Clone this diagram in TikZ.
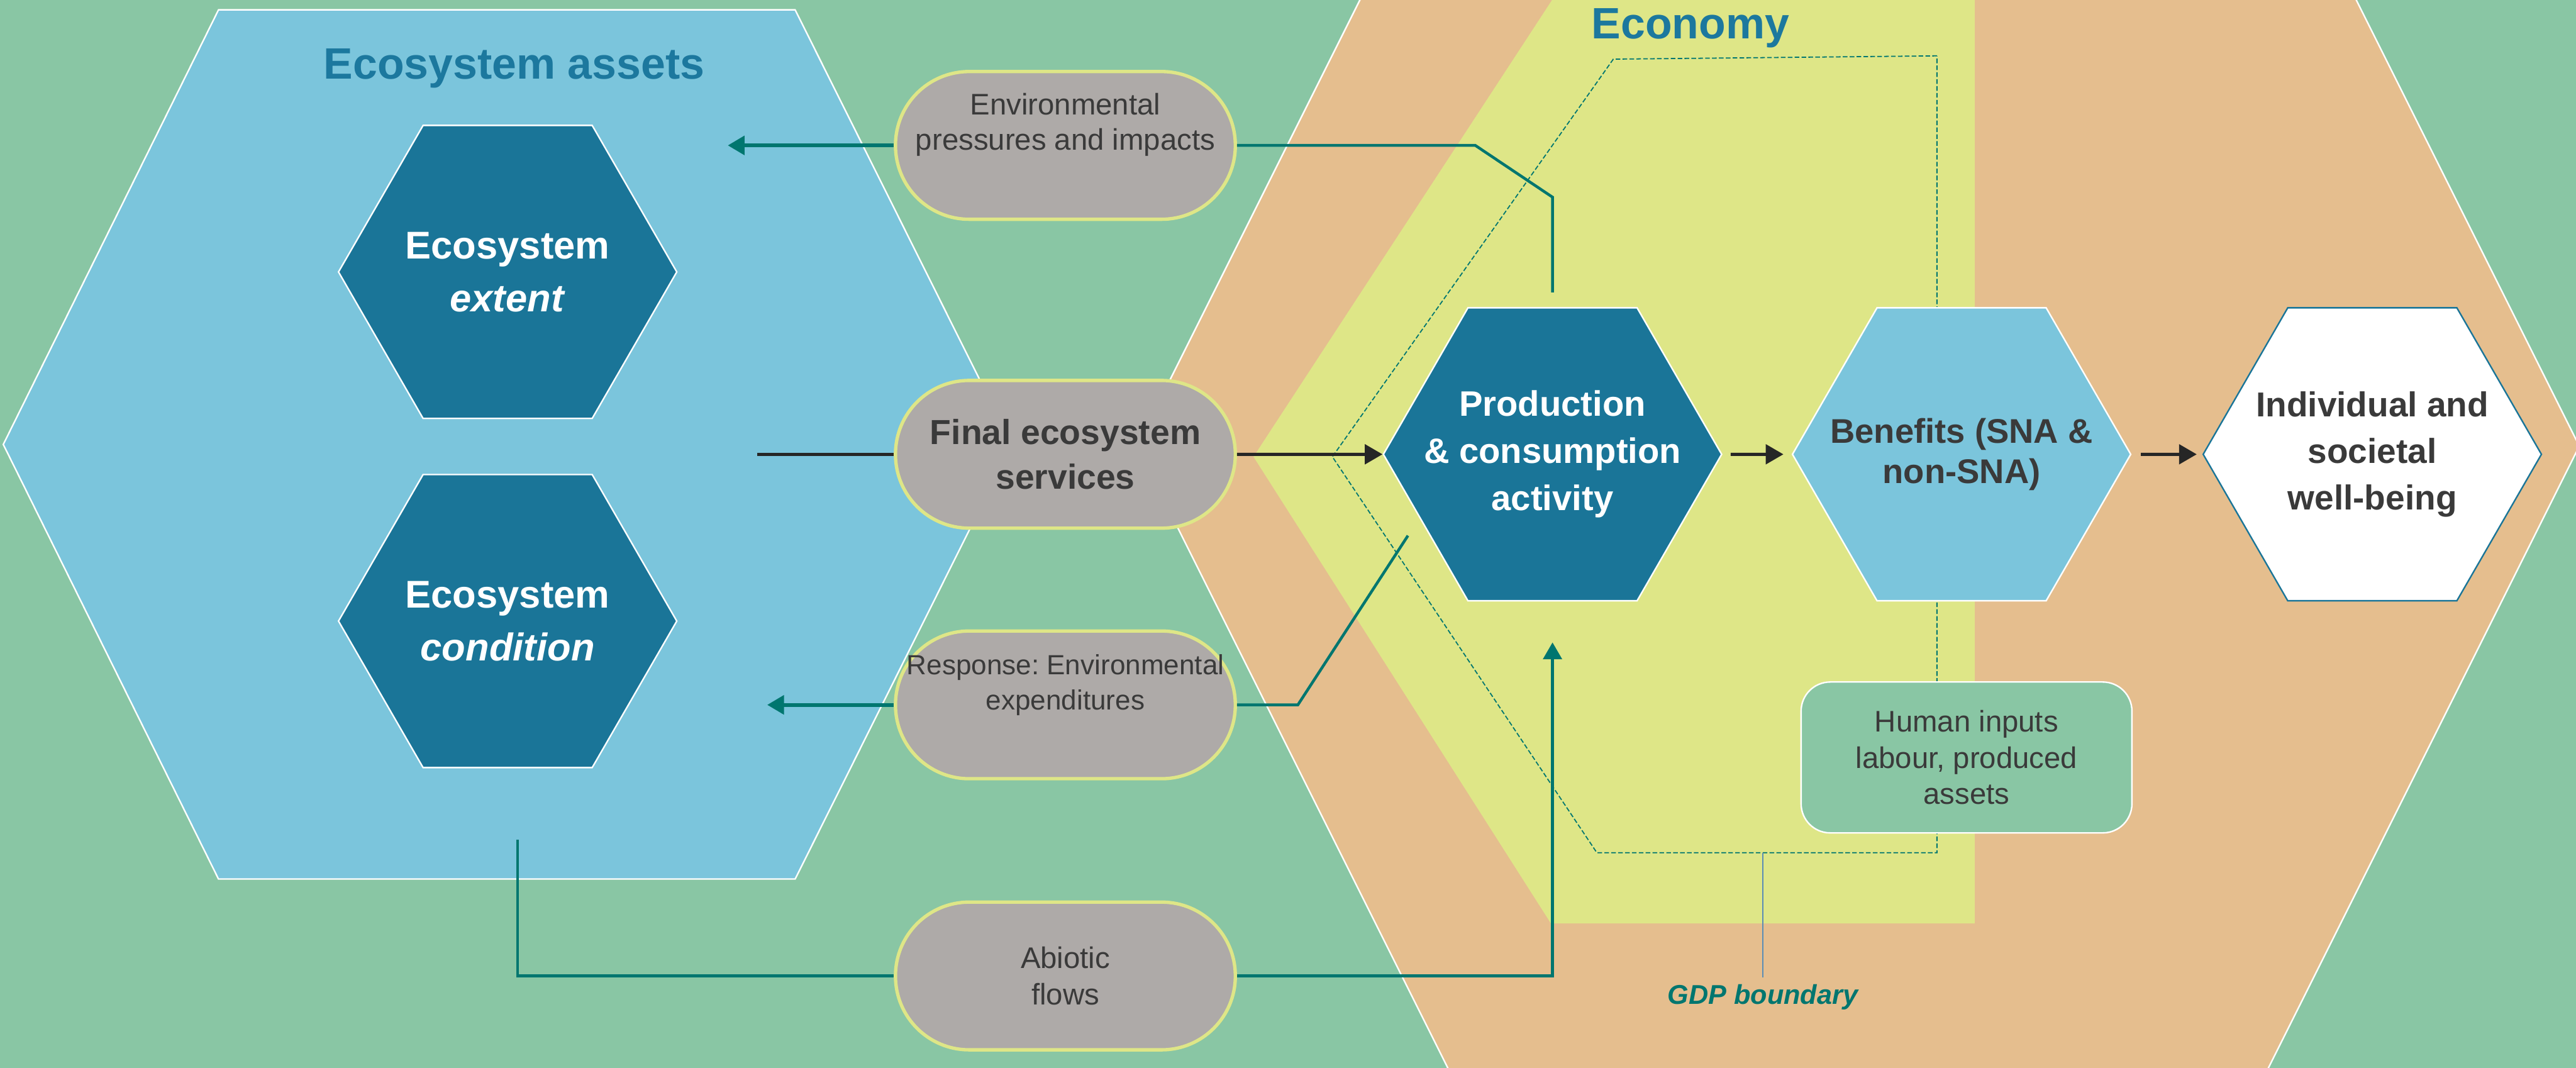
\documentclass[tikz,border=0pt]{standalone}
\usepackage{fontspec}
\setmainfont{Liberation Sans}
\usetikzlibrary{positioning, shapes.geometric, arrows.meta}

\definecolor{meadow}{HTML}{89C6A4}
\definecolor{assetblue}{HTML}{7BC5DC}
\definecolor{deepteal}{HTML}{1A7598}
\definecolor{sand}{HTML}{E5BE8E}
\definecolor{lime}{HTML}{DEE687}
\definecolor{pebble}{HTML}{AEAAA8}
\definecolor{flowteal}{HTML}{00766F}
\definecolor{inkgrey}{HTML}{3A3A3A}
\definecolor{headblue}{HTML}{1C789E}
\definecolor{arrowblack}{HTML}{262626}
\definecolor{gdpline}{HTML}{5A8DB5}

\tikzstyle{Arrow} = [
%black flow arrow between the activity hexagons
line width=1.7pt, draw=arrowblack,
-{Triangle[length=9.5pt, width=10.5pt]}
]

\begin{document}
\begin{tikzpicture}[x=0.031034cm, y=-0.031034cm,
    hexa/.style = {regular polygon, regular polygon sides=6, minimum size=6.39cm, inner sep=-0.8cm, draw=white, line width=0.8pt, align=center},
    pill/.style = {rectangle, rounded corners=1.39cm, fill=pebble, draw=lime, line width=1.8pt, minimum width=6.42cm, minimum height=2.79cm, inner sep=0pt, align=center, text=inkgrey},
    pilltext/.style = {align=center, text=inkgrey, font=\fontsize{16}{18.8}\selectfont},
    heading/.style = {anchor=base, text=headblue, font=\fontsize{23.6}{28}\selectfont\bfseries},
    flow/.style = {draw=flowteal, line width=1.5pt},
    flowtip/.style = {draw=flowteal, line width=2pt, -{Triangle[length=9pt, width=10pt]}},
  ]
  \useasboundingbox (0,0) rectangle (1568,650);
  \clip (0,0) rectangle (1568,650);

  % backdrop, economy and ecosystem regions
  \fill[meadow] (0,0) rectangle (1568,650);
  \filldraw[fill=sand, draw=white, line width=0.8pt] (842.75,-30) -- (1419.25,-30) -- (1570,271.5) -- (1365.75,680) -- (896.25,680) -- (692,271.5) -- cycle;
  \fill[lime] (948,-5) -- (1202,-5) -- (1202,562) -- (944,562) -- (763,278) -- cycle;
  \filldraw[fill=assetblue, draw=white, line width=0.8pt] (133,6) -- (484,6) -- (616,270.5) -- (484,535) -- (133,535) -- (2,270.5) -- cycle;

  \node[heading] (assets) at (313,48) {Ecosystem assets};
  \node[heading] (economy) at (1029,23.6) {Economy};

  % GDP boundary
  \draw[flowteal, line width=0.6pt, dash pattern=on 2.5pt off 1.2pt] (1179,34) -- (982,36) -- (811,278) -- (972,519) -- (1179,519) -- cycle;

  % hexagons
  \node[hexa, fill=deepteal, text=white, font=\fontsize{20.8}{28.5}\selectfont\bfseries] (extent) at (309,165.5) {Ecosystem\\\textit{extent}};
  \node[hexa, fill=deepteal, text=white, font=\fontsize{20.8}{28.5}\selectfont\bfseries] (condition) at (309,378) {Ecosystem\\\textit{condition}};
  \node[hexa, fill=deepteal, text=white, font=\fontsize{19}{25.3}\selectfont\bfseries] (prod) at (945,276.5) {Production\\\& consumption\\activity};
  \node[hexa, fill=assetblue, text=inkgrey, font=\fontsize{18.4}{21.5}\selectfont\bfseries] (benefit) at (1194,276.5) {Benefits (SNA \&\\non-SNA)};
  \node[hexa, fill=white, draw=deepteal, text=inkgrey, font=\fontsize{18.6}{25}\selectfont\bfseries] (wellbeing) at (1444,276.5) {Individual and\\societal\\well-being};

  \node[rectangle, rounded corners=0.55cm, fill=meadow, draw=white, line width=0.8pt, minimum width=6.25cm, minimum height=2.85cm, align=center, text=inkgrey, font=\fontsize{16}{19.4}\selectfont] (human) at (1197,461) {Human inputs\\labour, produced\\assets};

  % teal flows
  \coordinate (pressFoot) at (945,178);
  \coordinate (pressKnee) at (945,120);
  \coordinate (pressElbow) at (898,88.5);
  \coordinate (pressTip) at (443,88.5);
  \coordinate (respFoot) at (857,326);
  \coordinate (respElbow) at (790,429);
  \coordinate (respTip) at (467,429);
  \coordinate (abioFoot) at (315,511);
  \coordinate (abioTip) at (945,391);
  \coordinate (svcStart) at (461,276.5);

  % pills
  \node[pill] (env) at (648.5,88.5) {};
  \node[pilltext] (envtext) at (648.5,76) {Environmental\\pressures and impacts};
  \node[pill, font=\fontsize{18.7}{23.9}\selectfont\bfseries] (final) at (648.5,276.5) {Final ecosystem\\services};
  \node[pill] (resp) at (648.5,429) {};
  \node[pilltext, font=\fontsize{14.9}{19}\selectfont] (resptext) at (648.5,417) {Response:\ Environmental\\expenditures};
  \node[pill, font=\fontsize{16}{19.4}\selectfont] (abio) at (648.5,594) {Abiotic\\flows};

  \draw[flow] (pressFoot) -- (pressKnee) -- (pressElbow) -- (env.east);
  \draw[flowtip] (env.west) -- (pressTip);
  \draw[flow] (respFoot) -- (respElbow) -- (resp.east);
  \draw[flowtip] (resp.west) -- (respTip);
  \draw[flow] (abioFoot) |- (abio.west);
  \draw[flowtip, line width=1.5pt] (abio.east) -| (abioTip);

  % black flows
  \draw[line width=1.7pt, draw=arrowblack] (svcStart) -- (final.west);
  \draw[Arrow] (final.east) -- (prod.west);
  \draw[Arrow, shorten <=4.4pt, shorten >=4.4pt] (prod.east) -- (benefit.west);
  \draw[Arrow, shorten <=5pt, shorten >=3pt] (benefit.east) -- (wellbeing.west);

  \node[anchor=base, text=flowteal, font=\fontsize{14.6}{17}\selectfont\bfseries\itshape] (gdp) at (1073,611) {GDP boundary};
  \coordinate (gdpTop) at (1073,519);
  \draw[line width=0.5pt, draw=gdpline] (gdpTop) -- (gdp.north);
\end{tikzpicture}
\end{document}
